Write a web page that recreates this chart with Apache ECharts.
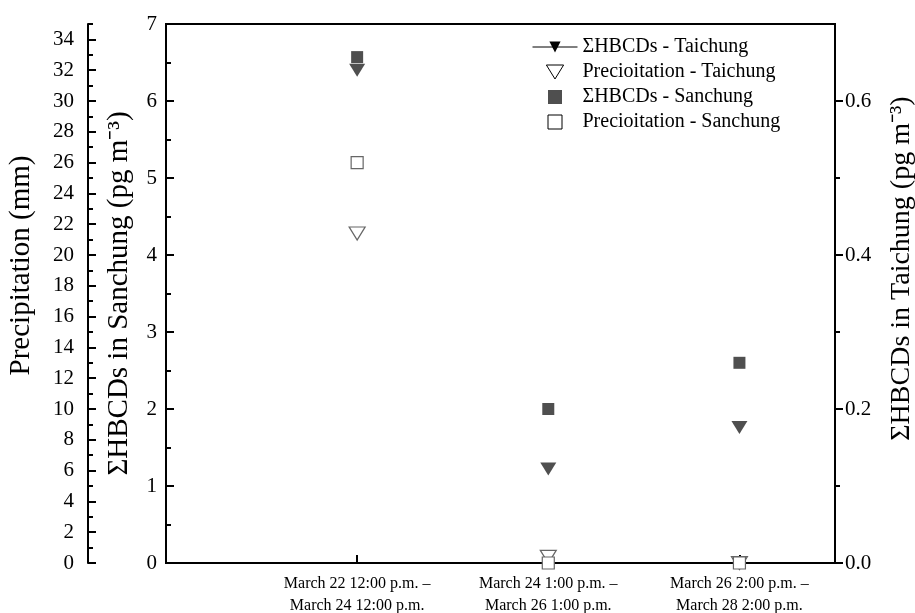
<!DOCTYPE html>
<html>
<head>
<meta charset="utf-8">
<title>HBCDs and precipitation</title>
<script src="https://cdn.jsdelivr.net/npm/echarts@6/dist/echarts.min.js"></script>
<style>
  html, body { margin: 0; padding: 0; background: #fff; }
  #main { width: 915px; height: 613px; }
</style>
</head>
<body>
<div id="main"></div>
<script>
// sampling periods (x positions 1..3)
const periods = [
  'March 22 12:00 p.m. –\nMarch 24 12:00 p.m.',
  'March 24 1:00 p.m. –\nMarch 26 1:00 p.m.',
  'March 26 2:00 p.m. –\nMarch 28 2:00 p.m.'
]
const periodPos = [1, 2, 3]

// values
const hbcdTaichung = [0.64, 0.122, 0.176]   // pg m-3, right axis
const precipTaichung = [21.4, 0.4, 0]       // mm
const hbcdSanchung = [6.57, 2.0, 2.6]       // pg m-3, inner left axis
const precipSanchung = [26.0, 0, 0]         // mm

// tick values
const precipMajor = [0, 2, 4, 6, 8, 10, 12, 14, 16, 18, 20, 22, 24, 26, 28, 30, 32, 34]
const precipMinor = [1, 3, 5, 7, 9, 11, 13, 15, 17, 19, 21, 23, 25, 27, 29, 31, 33, 35]
const taichungMajor = [0, 0.2, 0.4, 0.6]
const taichungMinor = [0.1, 0.3, 0.5]

const font = '"Liberation Serif", "Times New Roman", serif'
const markDark = '#4f4f4f'

// legend icons (kept square / triangular inside the wide legend box)
const iconTri = 'path://M0,0L16,0L8,13Z'
const iconSq = 'path://M0,0L12,0L12,12L0,12Z'

const pts = (ys) => ys.map((y, i) => [periodPos[i], y])

const chart = echarts.init(document.getElementById('main'))

const option = {
  animation: false,
  textStyle: { fontFamily: font, color: '#000' },
  grid: {
    left: 166, right: 80, top: 24, bottom: 50,
    show: true, borderColor: '#000', borderWidth: 2,
    containLabel: false, outerBoundsMode: 'none'
  },
  legend: {
    orient: 'vertical',
    left: 527, top: 32,
    itemWidth: 45, itemHeight: 14, itemGap: 5,
    symbolKeepAspect: true,
    textStyle: { fontSize: 20, fontFamily: font, color: '#000' },
    selectedMode: false,
    data: [
      { name: 'ΣHBCDs - Taichung', itemStyle: { color: '#000' }, lineStyle: { color: '#000', width: 1, opacity: 1 } },
      { name: 'Precioitation - Taichung', icon: iconTri, itemStyle: { color: '#fff', borderColor: '#000', borderWidth: 1 } },
      { name: 'ΣHBCDs - Sanchung', icon: iconSq, itemStyle: { color: markDark } },
      { name: 'Precioitation - Sanchung', icon: iconSq, itemStyle: { color: '#fff', borderColor: '#000', borderWidth: 1 } }
    ]
  },
  xAxis: {
    type: 'value', min: 0, max: 3.5,
    splitLine: { show: false },
    axisLine: { onZero: false, lineStyle: { color: '#000', width: 2 } },
    axisTick: { inside: true, length: 8, customValues: periodPos, lineStyle: { color: '#000', width: 2 } },
    axisLabel: {
      customValues: periodPos,
      formatter: (v) => periods[Math.round(v) - 1] || '',
      fontSize: 16, lineHeight: 22, margin: 10, color: '#000', fontFamily: font
    }
  },
  yAxis: [
    { // 0: precipitation, far left
      type: 'value', position: 'left', offset: 78, min: 0, max: 35,
      name: 'Precipitation (mm)', nameLocation: 'middle', nameGap: 52, nameRotate: 90,
      nameTextStyle: { fontSize: 29, fontFamily: font, color: '#000', padding: [0, 0, 0, 56] },
      splitLine: { show: false },
      axisLine: { show: true, onZero: false, lineStyle: { color: '#000', width: 2 } },
      axisTick: { inside: true, length: 8, customValues: precipMajor, lineStyle: { color: '#000', width: 2 } },
      axisLabel: { customValues: precipMajor, fontSize: 21, margin: 14, color: '#000', fontFamily: font }
    },
    { // 1: Sanchung, inner left
      type: 'value', position: 'left', offset: 0, min: 0, max: 7, interval: 1,
      name: 'ΣHBCDs in Sanchung (pg m⁻³)', nameLocation: 'middle', nameGap: 32, nameRotate: 90,
      nameTextStyle: { fontSize: 29, fontFamily: font, color: '#000' },
      splitLine: { show: false },
      axisLine: { show: true, onZero: false, lineStyle: { color: '#000', width: 2 } },
      axisTick: { inside: true, length: 8, lineStyle: { color: '#000', width: 2 } },
      minorTick: { show: true, splitNumber: 2, length: 5, lineStyle: { color: '#000', width: 2 } },
      axisLabel: { fontSize: 21, margin: 9, color: '#000', fontFamily: font }
    },
    { // 2: Taichung, right
      type: 'value', position: 'right', offset: 0, min: 0, max: 0.7,
      name: 'ΣHBCDs in Taichung (pg m⁻³)', nameLocation: 'middle', nameGap: 53, nameRotate: 90,
      nameTextStyle: { fontSize: 28, fontFamily: font, color: '#000', padding: [0, 0, 0, 50] },
      splitLine: { show: false },
      axisLine: { show: true, onZero: false, lineStyle: { color: '#000', width: 2 } },
      axisTick: { length: 8, customValues: taichungMajor, lineStyle: { color: '#000', width: 2 } },
      axisLabel: { customValues: taichungMajor, formatter: (v) => v.toFixed(1), fontSize: 21, margin: 10, color: '#000', fontFamily: font }
    },
    { // 3: precipitation minor ticks
      type: 'value', position: 'left', offset: 78, min: 0, max: 35,
      splitLine: { show: false },
      axisLine: { show: false, onZero: false },
      axisTick: { inside: true, length: 5, customValues: precipMinor, lineStyle: { color: '#000', width: 2 } },
      axisLabel: { show: false }
    },
    { // 4: Taichung minor ticks
      type: 'value', position: 'right', offset: 0, min: 0, max: 0.7,
      splitLine: { show: false },
      axisLine: { show: false, onZero: false },
      axisTick: { length: 5, customValues: taichungMinor, lineStyle: { color: '#000', width: 2 } },
      axisLabel: { show: false }
    }
  ],
  series: [
    {
      name: 'ΣHBCDs - Taichung', type: 'line', yAxisIndex: 2,
      data: pts(hbcdTaichung),
      symbol: 'triangle', symbolRotate: 180, symbolSize: [16, 13], showSymbol: true,
      lineStyle: { opacity: 0 },
      itemStyle: { color: markDark },
      emphasis: { disabled: true }, z: 4
    },
    {
      name: 'Precioitation - Taichung', type: 'scatter', yAxisIndex: 0,
      data: pts(precipTaichung),
      symbol: 'triangle', symbolRotate: 180, symbolSize: [16, 13],
      itemStyle: { color: '#fff', borderColor: '#666', borderWidth: 1.2, opacity: 1 },
      emphasis: { disabled: true }, z: 3
    },
    {
      name: 'ΣHBCDs - Sanchung', type: 'scatter', yAxisIndex: 1,
      data: pts(hbcdSanchung),
      symbol: 'rect', symbolSize: 12,
      itemStyle: { color: markDark, opacity: 1 },
      emphasis: { disabled: true }, z: 4
    },
    {
      name: 'Precioitation - Sanchung', type: 'scatter', yAxisIndex: 0,
      data: pts(precipSanchung),
      symbol: 'rect', symbolSize: 12,
      itemStyle: { color: '#fff', borderColor: '#666', borderWidth: 1.2, opacity: 1 },
      emphasis: { disabled: true }, z: 3
    }
  ]
}

chart.setOption(option)
</script>
</body>
</html>
